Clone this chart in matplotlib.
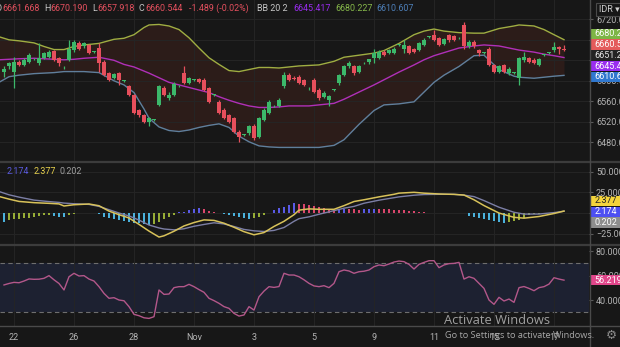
import numpy as np
import matplotlib
matplotlib.use("Agg")
import matplotlib.pyplot as plt
from matplotlib.lines import Line2D
from matplotlib.patches import Rectangle

plt.rcParams['font.family'] = ['Roboto', 'DejaVu Sans']

# ---------------- 4-hour USD/IDR candles ----------------
opens = [6618, 6628, 6618, 6637, 6631, 6637, 6642, 6634, 6644, 6647,
         6659, 6644, 6626, 6641, 6660, 6674, 6667, 6670, 6657, 6665,
         6637, 6615, 6605, 6615, 6600, 6589, 6572, 6543, 6533, 6520,
         6524, 6553, 6585, 6566, 6572, 6589, 6615, 6595, 6602, 6603,
         6602, 6585, 6572, 6559, 6543, 6533, 6527, 6501, 6494, 6498,
         6512, 6491, 6524, 6537, 6550, 6551, 6589, 6611, 6606, 6608,
         6601, 6585, 6601, 6582, 6569, 6563, 6582, 6595, 6611, 6628,
         6628, 6618, 6634, 6636, 6644, 6644, 6657, 6654, 6654, 6670,
         6663, 6667, 6663, 6660, 6670, 6686, 6689, 6683, 6672, 6689,
         6687, 6683, 6709, 6667, 6676, 6660, 6654, 6663, 6631, 6618,
         6631, 6615, 6615, 6605, 6641, 6644, 6641, 6631, 6650, 6655,
         6661, 6666, 6661.668]
highs = [6628, 6636, 6647, 6640, 6644, 6654, 6644, 6673, 6656, 6660,
         6661, 6646, 6628, 6680, 6680, 6677, 6675, 6672, 6659, 6673,
         6640, 6617, 6615, 6617, 6602, 6592, 6575, 6545, 6535, 6529,
         6526, 6592, 6590, 6579, 6598, 6591, 6628, 6608, 6604, 6606,
         6605, 6588, 6574, 6562, 6546, 6536, 6530, 6504, 6496, 6514,
         6515, 6530, 6546, 6562, 6552, 6566, 6618, 6616, 6609, 6612,
         6604, 6587, 6605, 6585, 6580, 6573, 6584, 6614, 6630, 6638,
         6631, 6631, 6636, 6643, 6663, 6660, 6660, 6662, 6666, 6672,
         6680, 6669, 6665, 6675, 6683, 6688, 6699, 6685, 6683, 6691,
         6690, 6686, 6715, 6679, 6679, 6662, 6656, 6666, 6633, 6630,
         6633, 6627, 6617, 6647, 6657, 6647, 6644, 6645, 6652, 6657,
         6676, 6668, 6670.190]
lows = [6608, 6624, 6585, 6628, 6628, 6635, 6640, 6631, 6642, 6645,
        6639, 6628, 6624, 6638, 6657, 6660, 6665, 6652, 6655, 6618,
        6609, 6600, 6603, 6592, 6598, 6570, 6535, 6530, 6518, 6511,
        6522, 6550, 6570, 6563, 6570, 6587, 6593, 6593, 6600, 6595,
        6580, 6557, 6570, 6535, 6525, 6518, 6498, 6481, 6492, 6495,
        6485, 6488, 6522, 6535, 6548, 6549, 6585, 6599, 6601, 6593,
        6589, 6583, 6576, 6563, 6566, 6551, 6580, 6592, 6609, 6625,
        6612, 6615, 6632, 6633, 6634, 6642, 6648, 6652, 6652, 6668,
        6654, 6652, 6655, 6658, 6667, 6684, 6678, 6668, 6670, 6676,
        6677, 6681, 6663, 6664, 6664, 6648, 6652, 6629, 6615, 6615,
        6615, 6612, 6613, 6592, 6637, 6635, 6632, 6628, 6648, 6653,
        6657, 6653, 6657.918]
closes = [6624, 6634, 6637, 6631, 6641, 6650, 6642, 6645, 6654, 6657,
          6641, 6634, 6626, 6663, 6676, 6663, 6673, 6654, 6657, 6634,
          6611, 6602, 6613, 6602, 6600, 6572, 6537, 6533, 6520, 6527,
          6524, 6589, 6572, 6572, 6594, 6589, 6595, 6605, 6602, 6597,
          6582, 6559, 6572, 6537, 6527, 6520, 6501, 6491, 6494, 6511,
          6488, 6527, 6543, 6559, 6550, 6562, 6611, 6602, 6604, 6595,
          6592, 6585, 6579, 6566, 6577, 6570, 6582, 6611, 6628, 6634,
          6615, 6628, 6634, 6642, 6654, 6657, 6650, 6660, 6663, 6670,
          6670, 6654, 6657, 6673, 6680, 6686, 6680, 6670, 6681, 6680,
          6680, 6683, 6667, 6676, 6667, 6654, 6654, 6631, 6618, 6628,
          6618, 6624, 6615, 6644, 6647, 6637, 6634, 6642, 6650, 6655,
          6666, 6662.033, 6660.544]

# ---------------- Bollinger Bands (20, 2) ----------------
band_idx = [-1, 1, 3, 6, 8, 10, 12, 14, 16, 19, 22, 24, 26, 28, 29, 31, 33, 35,
            37, 39, 41, 43, 45, 47, 49, 51, 53, 55, 57, 59, 61, 63, 66, 68, 71,
            74, 76, 79, 82, 84, 86, 88, 91, 94, 96, 99, 102, 103, 106, 108, 110, 112]
bb_upper = [6686, 6680, 6678, 6674, 6667, 6661, 6661, 6667, 6670, 6673, 6681,
            6683, 6690, 6704, 6709, 6710, 6707, 6700, 6684, 6664, 6645, 6632,
            6620, 6618, 6622, 6626, 6626, 6625, 6627, 6629, 6630, 6631, 6638,
            6646, 6650, 6654, 6659, 6673, 6690, 6697, 6701, 6697, 6694, 6693,
            6693, 6702, 6707, 6709, 6707, 6700, 6690, 6680.227]
bb_mid = [6641, 6642, 6643, 6644, 6643, 6642, 6641, 6642, 6644, 6646, 6640,
          6632, 6627, 6619, 6615, 6606, 6597, 6592, 6587, 6582, 6577, 6569,
          6562, 6556, 6551, 6548, 6548, 6549, 6551, 6551, 6551, 6553, 6556,
          6564, 6578, 6592, 6602, 6617, 6631, 6641, 6649, 6655, 6664, 6668,
          6670, 6668, 6662, 6660, 6656, 6652, 6649, 6645.417]
bb_lower = [6597, 6608, 6611, 6614, 6615, 6616, 6618, 6618, 6618, 6616, 6600,
            6592, 6577, 6545, 6527, 6510, 6503, 6501, 6504, 6509, 6513, 6516,
            6509, 6492, 6481, 6473, 6471, 6470, 6470, 6470, 6470, 6470, 6474,
            6485, 6515, 6542, 6553, 6555, 6559, 6578, 6597, 6611, 6628, 6649,
            6650, 6622, 6609, 6607, 6605, 6607, 6609, 6610.607]
ref_level = 6651.20

# ---------------- MACD ----------------
macd_idx = [-1, 1, 3, 6, 9, 11, 12, 14, 17, 19, 21, 23, 25, 27, 29, 31, 32, 34,
            36, 38, 40, 42, 44, 46, 48, 50, 52, 54, 56, 58, 59, 61, 63, 66, 68,
            70, 72, 75, 78, 79, 82, 84, 87, 90, 92, 94, 96, 99, 102, 104, 107,
            110, 112]
macd_line = [20.0, 16.8, 14.0, 12.5, 11.7, 11.0, 8.5, 10.0, 10.9, 8.8, 2.3,
             -2.0, -6.0, -13.7, -21.8, -29.0, -27.5, -22.0, -15.6, -11.5, -8.3,
             -8.9, -12.3, -17.2, -22.5, -26.3, -23.6, -16.2, -10.0, -2.0, 3.5,
             5.0, 4.5, 4.5, 8.9, 13.9, 16.0, 19.5, 22.6, 24.0, 25.0, 24.0, 23.0,
             22.5, 21.7, 16.0, 9.0, 0.0, -5.2, -6.2, -4.2, -0.6, 2.377]
signal_line = [26.0, 22.0, 19.2, 15.6, 13.8, 12.8, 12.0, 11.2, 10.4, 8.0, 4.0,
               0.0, -3.5, -8.5, -14.5, -18.0, -19.3, -20.3, -19.0, -16.0, -13.8,
               -11.8, -13.2, -16.3, -19.8, -21.5, -22.3, -21.0, -17.5, -10.0,
               -6.8, -4.6, -1.5, 2.9, 5.8, 8.0, 11.8, 15.5, 18.5, 19.5, 21.5,
               22.3, 22.6, 22.6, 21.6, 19.8, 15.0, 7.0, 0.9, -1.3, -1.2, 0.5, 2.174]
macd_hist = [-10.5, -8.5, -7.7, -7.2, -6.4, -5.6, -4.4, -3.6, -2.8, -2.4,
             -3.6, -4.4, -5.2, -2.0, -0.8, -0.3, 0.2, 0.3, -0.5, -1.0,
             -4.4, -6.4, -7.7, -8.5, -9.3, -10.5, -11.7, -12.5, -13.7, -14.5,
             -13.3, -10.5, -7.7, -5.2, -2.4, 0.8, 1.6, 3.6, 4.8, 5.6,
             4.4, 2.8, 1.6, 0.4, -1.6, -2.4, -3.6, -4.4, -5.5, -7.2,
             -6.4, -4.4, -2.0, 0.5, 3.6, 5.6, 7.7, 9.7, 11.7, 11.3,
             10.9, 9.3, 8.1, 6.8, 6.0, 5.2, 4.0, 4.4, 5.2, 4.8,
             4.4, 4.0, 4.6, 5.0, 5.4, 5.2, 4.8, 4.4, 4.0, 3.6,
             3.2, 2.8, 2.4, 1.6, 1.0, 0.6, 0.3, 0.2, 0.1, 0.05,
             -0.1, -0.2, -0.5, -4.0, -5.2, -6.4, -7.7, -8.5, -9.7, -10.5,
             -11.7, -10.5, -9.7, -8.5, -6.4, -2.4, -1.6, -1.2, -0.8, -0.4,
             0.0, 0.1, 0.202]

# ---------------- RSI (14) ----------------
rsi = [52.3, 53.5, 54.4, 54.1, 55.5, 57.2, 56.9, 57.0, 57.7, 59.9,
       56.5, 53.5, 48.2, 59.0, 61.8, 59.6, 59.9, 57.1, 55.5, 50.9,
       45.4, 41.4, 41.9, 40.0, 39.4, 34.6, 28.3, 27.2, 25.5, 25.0,
       26.4, 48.2, 44.6, 44.9, 50.1, 50.9, 50.9, 52.8, 50.9, 48.5,
       46.3, 41.4, 39.5, 37.3, 34.6, 33.2, 29.1, 26.9, 27.8, 34.6,
       31.8, 42.7, 47.3, 50.9, 50.3, 51.0, 61.8, 60.4, 60.4, 59.0,
       56.5, 53.6, 51.5, 50.9, 51.7, 50.1, 53.6, 63.1, 64.5, 63.7,
       61.8, 63.1, 63.5, 64.5, 67.2, 68.6, 68.0, 69.4, 71.0, 71.8,
       71.3, 69.1, 65.3, 69.1, 70.7, 72.1, 72.1, 66.4, 68.6, 69.7,
       69.9, 70.7, 57.1, 59.0, 57.7, 53.6, 49.5, 40.0, 36.5, 42.2,
       39.2, 40.8, 38.1, 50.1, 51.0, 49.5, 47.6, 50.1, 50.9, 53.0,
       58.2, 57.1, 56.2197]
rsi_bands = (30, 70)

# ---------------- axes ticks ----------------
date_ticks = [2, 14, 26, 38, 50, 62, 74, 86, 98, 110]
date_labels = ['22', '26', '28', 'Nov', '3', '5', '9', '11', '15', '17']
price_ticks = [6480, 6520, 6560, 6600, 6640, 6680, 6720]
macd_ticks = [-25, 0, 25, 50]
rsi_ticks = [40, 60, 80]

# ---------------- style ----------------
BG = '#171717'
GRID = '#252525'
TXT = '#b4b4b4'
SEP = '#3c3c3c'
UP, DN = '#3cb86a', '#e64f5c'
C_UP, C_MID, C_LO = '#a0ad42', '#b030b8', '#5f7f9c'
C_MACD, C_SIG = '#d8c25a', '#7c7fa6'
C_RSI = '#b3578a'

W, H = 620, 347
fig = plt.figure(figsize=(W / 100, H / 100), dpi=100, facecolor=BG)


def panel(top, bottom, right=589):
    a = fig.add_axes([0, 1 - bottom / H, right / W, (bottom - top) / H])
    a.set_facecolor(BG)
    for s in a.spines.values():
        s.set_visible(False)
    a.yaxis.tick_right()
    a.tick_params(axis='y', colors='#5a5a5a', labelcolor=TXT, labelsize=6.5,
                  length=3, width=0.8, pad=2)
    a.set_xlim(-0.8, 117)
    a.set_xticks(date_ticks)
    a.tick_params(axis='x', length=0)
    a.grid(axis='x', color=GRID, lw=0.7)
    return a


ax_p = panel(0, 161)
ax_m = panel(162, 244)
ax_r = panel(245, 326)

# ---- price panel ----
x = np.arange(len(closes))
o, h, l, c = map(np.asarray, (opens, highs, lows, closes))
col = np.where(c >= o, UP, DN)
ax_p.fill_between(band_idx, bb_lower, bb_upper, color='#2c1c19', lw=0, zorder=1)
ax_p.plot(band_idx, bb_upper, color=C_UP, lw=1.0, zorder=2)
ax_p.plot(band_idx, bb_mid, color=C_MID, lw=1.0, zorder=2)
ax_p.plot(band_idx, bb_lower, color=C_LO, lw=1.0, zorder=2)
ax_p.vlines(x, l, h, colors=col, lw=0.9, zorder=3)
ax_p.bar(x, np.maximum(np.abs(c - o), 1.4), bottom=np.minimum(o, c), width=0.64,
         color=col, lw=0, zorder=4)
ax_p.set_ylim(6443.5, 6757.7)
ax_p.set_yticks(price_ticks)
ax_p.set_yticklabels([f'{v:.2f}' for v in price_ticks])
ax_p.grid(axis='y', color=GRID, lw=0.7)
ax_p.set_xticklabels([])

# ---- MACD panel ----
hist = np.asarray(macd_hist)
prev = np.concatenate([[hist[0] + 1], hist[:-1]])
hcol = np.where(hist >= 0,
                np.where(hist >= prev, '#5a5ae6', '#d9466c'),
                np.where(hist < prev, '#4ab2dc', '#97ad36'))
ax_m.bar(x, hist, width=0.34, color=hcol, lw=0, zorder=2)
ax_m.plot(macd_idx, signal_line, color=C_SIG, lw=1.0, zorder=3)
ax_m.plot(macd_idx, macd_line, color=C_MACD, lw=1.1, zorder=4)
ax_m.set_ylim(-37.4, 61.6)
ax_m.set_yticks(macd_ticks)
ax_m.set_yticklabels([f'{v:.3f}'.replace('-', '\u2212') for v in macd_ticks])
ax_m.grid(axis='y', color=GRID, lw=0.7)
ax_m.set_xticklabels([])

# ---- RSI panel ----
ax_r.axhspan(*rsi_bands, color='#1d2131', lw=0, zorder=0.5)
for lvl in rsi_bands:
    ax_r.axhline(lvl, color='#6e6e6e', lw=0.8, ls=(0, (4, 3)), zorder=1)
ax_r.plot(x, rsi, color=C_RSI, lw=1.0, zorder=3)
ax_r.set_ylim(18.8, 84.9)
ax_r.set_yticks(rsi_ticks)
ax_r.set_yticklabels([f'{v:.4f}' for v in rsi_ticks])
ax_r.set_xticklabels(date_labels)
ax_r.tick_params(axis='x', labelcolor=TXT, labelsize=6.5, pad=5)


# ---- separators ----
def hline_px(y, x0=0, x1=W, color=SEP, lw=1.6):
    fig.add_artist(Line2D([x0 / W, x1 / W], [1 - y / H, 1 - y / H],
                          transform=fig.transFigure, color=color, lw=lw))


hline_px(161.5)
hline_px(244.5)
hline_px(326.3, color='#4a4a4a', lw=1.0)
fig.add_artist(Line2D([589.5 / W, 589.5 / W], [0, 1], transform=fig.transFigure,
                      color='#4a4a4a', lw=1.0))


# ---- value labels on the right scale ----
def spread(ys, gap):
    order = sorted(range(len(ys)), key=lambda i: -ys[i])
    groups = [[i] for i in order]

    def place(g):
        m = np.mean([ys[i] for i in g])
        n = len(g)
        return [m + ((n - 1) / 2 - k) * gap for k in range(n)]

    merged = True
    while merged:
        merged = False
        for a in range(len(groups) - 1):
            if place(groups[a])[-1] - place(groups[a + 1])[0] < gap:
                groups[a] += groups.pop(a + 1)
                merged = True
                break
    out = [0.0] * len(ys)
    for g in groups:
        for i, p in zip(g, place(g)):
            out[i] = p
    return out


def value_labels(ax, items, gap=10.8):
    ys = [ax.transData.transform((0, v))[1] for v, _, _, _ in items]
    for y, (v, txt, fc, tc) in zip(spread(ys, gap), items):
        fig.add_artist(Rectangle((590 / W, (y - 5.2) / H), 32 / W, 10.4 / H,
                                 transform=fig.transFigure, fc=fc, ec='none'))
        fig.text(594.5 / W, y / H, txt, color=tc, fontsize=6.5, va='center', ha='left')


value_labels(ax_p, [
    (bb_upper[-1], f'{bb_upper[-1]:.3f}', '#7db545', 'white'),
    (closes[-1], f'{closes[-1]:.3f}', '#e45b5b', 'white'),
    (ref_level, f'{ref_level:.3f}', '#232323', '#e6e6e6'),
    (bb_mid[-1], f'{bb_mid[-1]:.3f}', '#9a2cf0', 'white'),
    (bb_lower[-1], f'{bb_lower[-1]:.3f}', '#3078cf', 'white'),
])
value_labels(ax_m, [
    (macd_line[-1], f'{macd_line[-1]:.3f}', '#f3d43c', '#222222'),
    (signal_line[-1], f'{signal_line[-1]:.3f}', '#4d4ff2', 'white'),
    (macd_hist[-1], f'{macd_hist[-1]:.3f}', '#8e8e8e', 'white'),
])
value_labels(ax_r, [(rsi[-1], f'{rsi[-1]:.4f}', '#e0468a', 'white')])

# ---- currency button ----
fig.add_artist(Rectangle((596 / W, 1 - 15.5 / H), 28 / W, 12.5 / H,
                         transform=fig.transFigure, fc=BG, ec='#4a4a4a', lw=0.8))
fig.text(599 / W, 1 - 9.3 / H, 'IDR \u25be', color='#d0d0d0', fontsize=6.5,
         va='center', ha='left', family=['Roboto', 'DejaVu Sans'])

# ---- legends (OHLC + Bollinger, MACD values) ----
renderer = fig.canvas.get_renderer()


def text_run(x_px, y_px, parts, size=6.4):
    xp = x_px
    for s, color, gap in parts:
        t = fig.text(xp / W, 1 - y_px / H, s, color=color, fontsize=size,
                     va='center', ha='left')
        xp += t.get_window_extent(renderer=renderer).width + gap


chg = closes[-1] - closes[-2]
pct = chg / closes[-2] * 100
RED = '#e4505e'
GREY = '#c8c8c8'
text_run(-4, 8.5, [
    ('O', GREY, 0.5), (f'{opens[-1]:.3f}', RED, 4),
    ('H', GREY, 0.5), (f'{highs[-1]:.3f}', RED, 4),
    ('L', GREY, 0.5), (f'{lows[-1]:.3f}', RED, 4),
    ('C', GREY, 0.5), (f'{closes[-1]:.3f}', RED, 7),
    (f'{chg:.3f} ({pct:.2f}%)', RED, 8),
    ('BB 20 2', GREY, 6),
    (f'{bb_mid[-1]:.3f}', '#9a2cf0', 4),
    (f'{bb_upper[-1]:.3f}', '#86b84a', 4),
    (f'{bb_lower[-1]:.3f}', '#4d7fb8', 0),
])
text_run(7, 172, [
    (f'{signal_line[-1]:.3f}', '#5b5be0', 4),
    (f'{macd_line[-1]:.3f}', '#e8d24e', 4),
    (f'{macd_hist[-1]:.3f}', '#a0a0a0', 0),
])

# ---- desktop overlay text ----
fig.text(444 / W, 1 - 320 / H, 'Activate Windows', color='#a0a0a0', fontsize=9.3,
         va='center', ha='left', family=['Open Sans', 'DejaVu Sans'])
fig.text(445 / W, 1 - 335 / H, 'Go to Settings to activate Windows.', color='#a8a8a8',
         fontsize=6.6, va='center', ha='left', family=['Open Sans', 'DejaVu Sans'])
fig.text(611 / W, 1 - 335.5 / H, '\u2699', color='#8a8a8a', fontsize=9,
         va='center', ha='center', family=['DejaVu Sans'])

fig.savefig('out.png', dpi=100, facecolor=BG)
